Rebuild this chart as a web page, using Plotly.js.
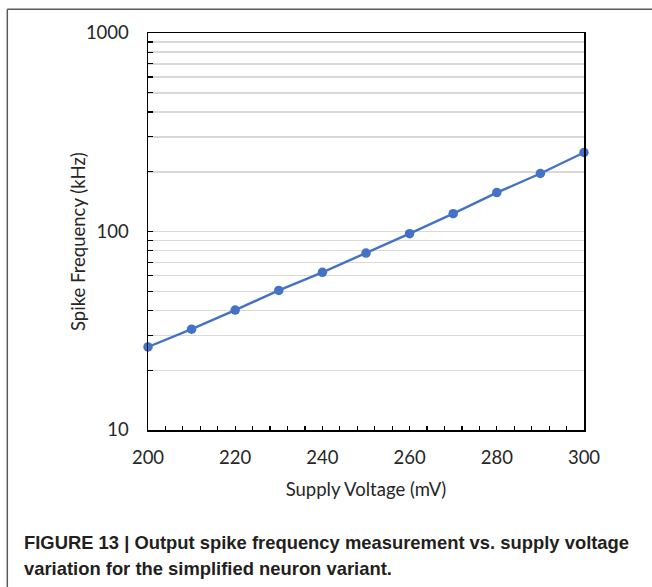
<!DOCTYPE html>
<html>
<head>
<meta charset="utf-8">
<script src="https://cdn.plot.ly/plotly-3.0.1.min.js"></script>
<style>
  html, body { margin: 0; padding: 0; background: #ffffff; }
  #chart { width: 652px; height: 587px; }
</style>
</head>
<body>
<div id="chart"></div>
<script>
// Data
const supplyVoltage = [200, 210, 220, 230, 240, 250, 260, 270, 280, 290, 300];
const spikeFrequency = [26.2, 32.2, 40.2, 50.5, 62.3, 77.9, 97.5, 123, 157, 196, 250];
const xTickValues = [200, 220, 240, 260, 280, 300];
const yTickValues = [10, 100, 1000];
const xTitle = 'Supply Voltage (mV)';
const yTitle = 'Spike Frequency (kHz)';
const captionLine1 = 'FIGURE 13 | Output spike frequency measurement vs. supply voltage';
const captionLine2 = 'variation for the simplified neuron variant.';

const W = 652, H = 587;
const L = 148, R = 584, T = 33, B = 430;
const px2x = p => (p - L) / (R - L);
const px2y = p => (B - p) / (B - T);

const labelFamily = 'Lato, "Open Sans", sans-serif';
const tickFont = { family: labelFamily, size: 18.5, color: '#262626' };

const trace = {
  x: supplyVoltage,
  y: spikeFrequency,
  type: 'scatter',
  mode: 'lines+markers',
  line: { color: '#4472C4', width: 2.4 },
  marker: { color: '#4472C4', size: 9.5 },
  cliponaxis: false,
  hoverinfo: 'x+y'
};

const layout = {
  width: W,
  height: H,
  margin: { l: L, r: W - R, t: T, b: H - B },
  paper_bgcolor: '#ffffff',
  plot_bgcolor: '#ffffff',
  showlegend: false,
  xaxis: {
    type: 'linear',
    range: [200, 300],
    tickvals: xTickValues,
    ticktext: xTickValues.map(String),
    ticks: 'inside',
    ticklen: 4,
    tickwidth: 1.2,
    tickcolor: '#000000',
    showline: true,
    linecolor: '#000000',
    linewidth: 1.5,
    mirror: true,
    showgrid: false,
    zeroline: false,
    tickfont: tickFont,
    ticklabelstandoff: 10,
    minor: { dtick: 4, tick0: 200, ticks: 'inside', ticklen: 4, tickwidth: 1.2, tickcolor: '#000000', showgrid: false },
    title: { text: xTitle, font: { family: labelFamily, size: 18.5, color: '#262626' }, standoff: 16 }
  },
  yaxis: {
    type: 'log',
    range: [1, 3],
    tickvals: yTickValues,
    ticktext: yTickValues.map(String),
    ticks: 'inside',
    ticklen: 5,
    tickwidth: 1.2,
    tickcolor: '#000000',
    showline: true,
    linecolor: '#000000',
    linewidth: 1.5,
    mirror: true,
    showgrid: false,
    zeroline: false,
    tickfont: tickFont,
    ticklabelstandoff: 14,
    minor: { dtick: 'D1', ticks: 'inside', ticklen: 5, tickwidth: 1.2, tickcolor: '#000000', showgrid: true, gridcolor: '#d9d9d9', gridwidth: 1.5 }
  },
  shapes: [
    { type: 'line', xref: 'paper', yref: 'paper', x0: px2x(7.3), x1: px2x(7.3), y0: px2y(9.3), y1: px2y(600), line: { color: '#5a5a5a', width: 1.5 } },
    { type: 'line', xref: 'paper', yref: 'paper', x0: px2x(7.3), x1: px2x(660), y0: px2y(9.3), y1: px2y(9.3), line: { color: '#5a5a5a', width: 1.5 } }
  ],
  annotations: [
    { xref: 'paper', yref: 'paper', x: px2x(78), y: px2y(242), xanchor: 'center', yanchor: 'middle', showarrow: false, textangle: -90,
      text: yTitle, font: { family: labelFamily, size: 18.5, color: '#262626' } },
    { xref: 'paper', yref: 'paper', x: px2x(22), y: px2y(542), xanchor: 'left', yanchor: 'middle', showarrow: false, align: 'left',
      text: '<b>' + captionLine1 + '</b>', font: { family: '"Liberation Sans", Arial, sans-serif', size: 18.4, color: '#231f20' } },
    { xref: 'paper', yref: 'paper', x: px2x(22), y: px2y(568), xanchor: 'left', yanchor: 'middle', showarrow: false, align: 'left',
      text: '<b>' + captionLine2 + '</b>', font: { family: '"Liberation Sans", Arial, sans-serif', size: 18.4, color: '#231f20' } }
  ]
};

Plotly.newPlot('chart', [trace], layout, { displayModeBar: false, staticPlot: true });
</script>
</body>
</html>
